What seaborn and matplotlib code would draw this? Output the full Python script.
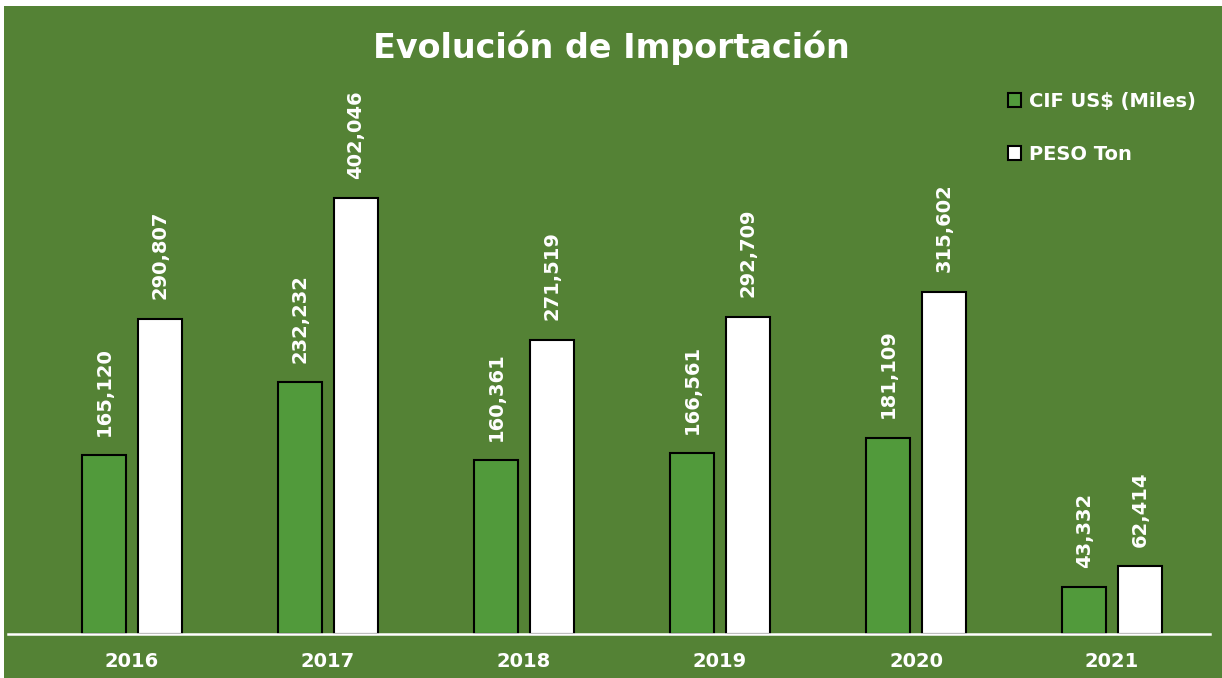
import pandas as pd
import numpy as np
import matplotlib.pyplot as plt
import seaborn as sns

# Data
years = ['2016', '2017', '2018', '2019', '2020', '2021']
cif_usd = [165120, 232232, 160361, 166561, 181109, 43332]
peso_ton = [290807, 402046, 271519, 292709, 315602, 62414]
series_names = ['CIF US$ (Miles)', 'PESO Ton']

df = pd.DataFrame({
    'Año': years * 2,
    'Serie': [series_names[0]] * len(years) + [series_names[1]] * len(years),
    'Valor': cif_usd + peso_ton,
})

bg = '#548235'
bar_green = '#519A3B'

fig = plt.figure(figsize=(12.22, 6.78), dpi=100)
fig.patch.set_facecolor('white')
# green panel (chart area), behind the axes
fig.patches.append(plt.Rectangle((4 / 1222, 0), 1, 1 - 6 / 678, transform=fig.transFigure,
                                 facecolor=bg, edgecolor='none', zorder=-1))

ax = fig.add_axes([8 / 1222, 1 - 634 / 678, 1202 / 1222, 574 / 678])
ax.set_facecolor('none')

sns.barplot(data=df, x='Año', y='Valor', hue='Serie', ax=ax,
            palette=[bar_green, 'white'], width=0.57, gap=0.2,
            edgecolor='black', linewidth=1.5, saturation=1)

ax.set_xlim(-0.633, 5.5)
ax.set_ylim(0, 574 / 0.001084)

# Data labels
for container in ax.containers:
    labels = [f'{v:,.0f}' for v in container.datavalues]
    ax.bar_label(container, labels=labels, rotation=90, padding=14,
                 color='white', fontsize=14, fontweight='bold')

# Axes styling
for side in ['top', 'right', 'left']:
    ax.spines[side].set_visible(False)
ax.spines['bottom'].set_color('white')
ax.spines['bottom'].set_linewidth(1.8)
ax.set_yticks([])
ax.set_xlabel('')
ax.set_ylabel('')
ax.tick_params(axis='x', length=0, pad=13, labelcolor='white', labelsize=14)
for lbl in ax.get_xticklabels():
    lbl.set_fontweight('bold')

# Title
fig.text(0.5, 1 - 48 / 678, 'Evolución de Importación', ha='center', va='center',
         color='white', fontsize=24, fontweight='bold')

# Legend
leg = ax.legend(loc='upper right', bbox_to_anchor=(1.003, 0.975), frameon=False,
                labelcolor='white', prop={'weight': 'bold', 'size': 14},
                handlelength=0.7, handleheight=0.7, handletextpad=0.4,
                labelspacing=1.75)

plt.savefig('out.png', dpi=100, facecolor=fig.get_facecolor())
